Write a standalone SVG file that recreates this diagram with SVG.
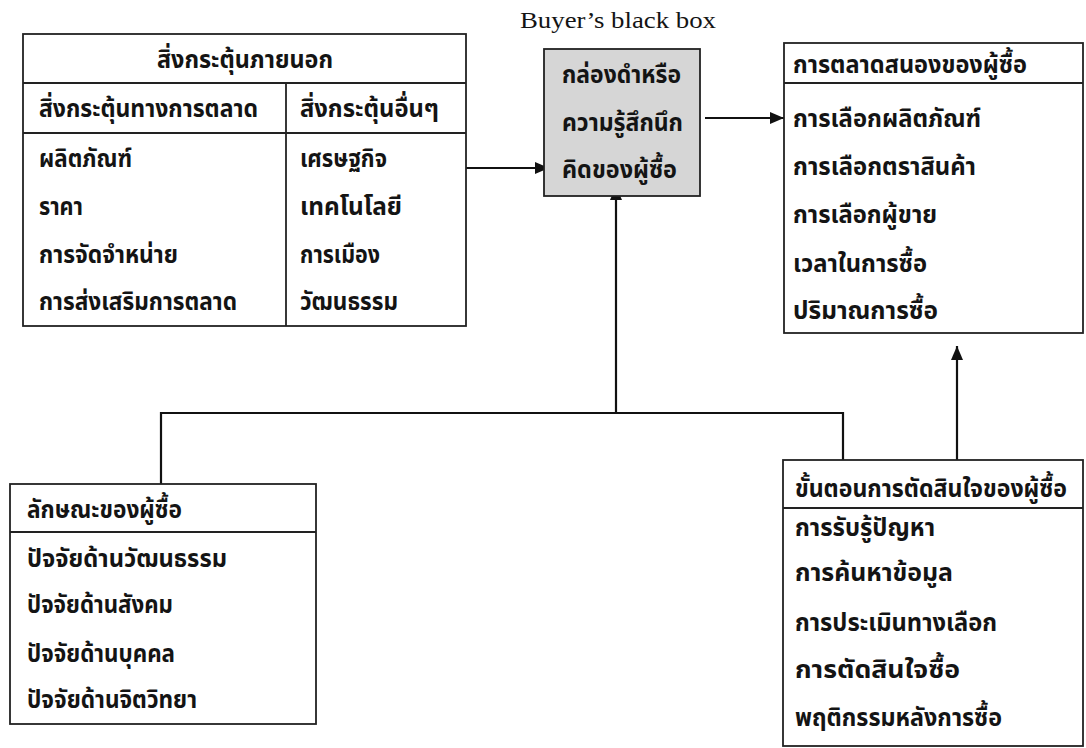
<svg xmlns="http://www.w3.org/2000/svg" width="1086" height="748" viewBox="0 0 1086 748">
<defs>
<marker id="arr" viewBox="0 0 14 12" refX="14" refY="6" markerWidth="14" markerHeight="12" markerUnits="userSpaceOnUse" orient="auto">
<path d="M0,0 L14,6 L0,12 Z" fill="#111"/>
</marker>
</defs>
<style>
.box{fill:#fff;stroke:#222;stroke-width:1.8}
.gray{fill:#d6d6d6;stroke:#222;stroke-width:1.8}
.div{stroke:#222;stroke-width:1.8;fill:none}
.con{stroke:#111;stroke-width:2.2;fill:none}
.t{font-family:"Noto Sans Thai","Noto Serif Thai","Loma","Garuda","TH Sarabun New","DejaVu Sans",sans-serif;font-size:25px;font-weight:bold;fill:#141414}
.en{font-family:"Liberation Serif","Times New Roman",serif;font-size:23px;fill:#141414}
</style>
<rect width="1086" height="748" fill="#fff"/>

<g id="connectors">
<line class="con" x1="457" y1="168" x2="549" y2="168" marker-end="url(#arr)"/>
<line class="con" x1="705" y1="118" x2="784" y2="118" marker-end="url(#arr)"/>
<polyline class="con" points="161,484 161,413 843,413 843,460"/>
<line class="con" x1="616" y1="413" x2="616" y2="186" marker-end="url(#arr)"/>
<line class="con" x1="957" y1="460" x2="957" y2="346" marker-end="url(#arr)"/>
</g>

<g id="external-stimuli">
<rect class="box" x="23" y="34" width="443" height="292"/>
<line class="div" x1="23" y1="83" x2="466" y2="83"/>
<line class="div" x1="23" y1="133" x2="466" y2="133"/>
<line class="div" x1="286" y1="83" x2="286" y2="326"/>
<text class="t" x="157" y="68" textLength="176" lengthAdjust="spacingAndGlyphs">สิ่งกระตุ้นภายนอก</text>
<text class="t" x="39" y="117" textLength="219" lengthAdjust="spacingAndGlyphs">สิ่งกระตุ้นทางการตลาด</text>
<text class="t" x="300" y="117" textLength="139" lengthAdjust="spacingAndGlyphs">สิ่งกระตุ้นอื่นๆ</text>
<text class="t" x="39" y="167" textLength="93" lengthAdjust="spacingAndGlyphs">ผลิตภัณฑ์</text>
<text class="t" x="39" y="215" textLength="44" lengthAdjust="spacingAndGlyphs">ราคา</text>
<text class="t" x="39" y="263" textLength="139" lengthAdjust="spacingAndGlyphs">การจัดจำหน่าย</text>
<text class="t" x="39" y="310" textLength="198" lengthAdjust="spacingAndGlyphs">การส่งเสริมการตลาด</text>
<text class="t" x="300" y="167" textLength="87" lengthAdjust="spacingAndGlyphs">เศรษฐกิจ</text>
<text class="t" x="300" y="215" textLength="102" lengthAdjust="spacingAndGlyphs">เทคโนโลยี</text>
<text class="t" x="300" y="263" textLength="80" lengthAdjust="spacingAndGlyphs">การเมือง</text>
<text class="t" x="300" y="310" textLength="98" lengthAdjust="spacingAndGlyphs">วัฒนธรรม</text>
</g>

<g id="black-box">
<text class="en" x="520" y="28" textLength="196" lengthAdjust="spacingAndGlyphs">Buyer’s black box</text>
<rect class="gray" x="544" y="49" width="156" height="147"/>
<text class="t" x="562" y="83" textLength="119" lengthAdjust="spacingAndGlyphs">กล่องดำหรือ</text>
<text class="t" x="562" y="131" textLength="121" lengthAdjust="spacingAndGlyphs">ความรู้สึกนึก</text>
<text class="t" x="562" y="178" textLength="115" lengthAdjust="spacingAndGlyphs">คิดของผู้ซื้อ</text>
</g>

<g id="buyer-response">
<rect class="box" x="784" y="43" width="299" height="290"/>
<line class="div" x1="784" y1="83" x2="1083" y2="83"/>
<text class="t" x="793" y="73" textLength="234" lengthAdjust="spacingAndGlyphs">การตลาดสนองของผู้ซื้อ</text>
<text class="t" x="793" y="127" textLength="188" lengthAdjust="spacingAndGlyphs">การเลือกผลิตภัณฑ์</text>
<text class="t" x="793" y="175" textLength="183" lengthAdjust="spacingAndGlyphs">การเลือกตราสินค้า</text>
<text class="t" x="793" y="223" textLength="144" lengthAdjust="spacingAndGlyphs">การเลือกผู้ขาย</text>
<text class="t" x="793" y="272" textLength="134" lengthAdjust="spacingAndGlyphs">เวลาในการซื้อ</text>
<text class="t" x="793" y="319" textLength="145" lengthAdjust="spacingAndGlyphs">ปริมาณการซื้อ</text>
</g>

<g id="buyer-characteristics">
<rect class="box" x="10" y="484" width="306" height="240"/>
<line class="div" x1="10" y1="532" x2="316" y2="532"/>
<text class="t" x="27" y="518" textLength="155" lengthAdjust="spacingAndGlyphs">ลักษณะของผู้ซื้อ</text>
<text class="t" x="27" y="567" textLength="200" lengthAdjust="spacingAndGlyphs">ปัจจัยด้านวัฒนธรรม</text>
<text class="t" x="27" y="613" textLength="146" lengthAdjust="spacingAndGlyphs">ปัจจัยด้านสังคม</text>
<text class="t" x="27" y="662" textLength="148" lengthAdjust="spacingAndGlyphs">ปัจจัยด้านบุคคล</text>
<text class="t" x="27" y="708" textLength="170" lengthAdjust="spacingAndGlyphs">ปัจจัยด้านจิตวิทยา</text>
</g>

<g id="decision-process">
<rect class="box" x="783" y="460" width="300" height="286"/>
<line class="div" x1="783" y1="508" x2="1083" y2="508"/>
<text class="t" x="795" y="497" font-size="22" textLength="272" lengthAdjust="spacingAndGlyphs">ขั้นตอนการตัดสินใจของผู้ซื้อ</text>
<text class="t" x="795" y="536" textLength="140" lengthAdjust="spacingAndGlyphs">การรับรู้ปัญหา</text>
<text class="t" x="795" y="581" textLength="158" lengthAdjust="spacingAndGlyphs">การค้นหาข้อมูล</text>
<text class="t" x="795" y="631" textLength="202" lengthAdjust="spacingAndGlyphs">การประเมินทางเลือก</text>
<text class="t" x="795" y="678" textLength="165" lengthAdjust="spacingAndGlyphs">การตัดสินใจซื้อ</text>
<text class="t" x="795" y="726" textLength="207" lengthAdjust="spacingAndGlyphs">พฤติกรรมหลังการซื้อ</text>
</g>
</svg>
